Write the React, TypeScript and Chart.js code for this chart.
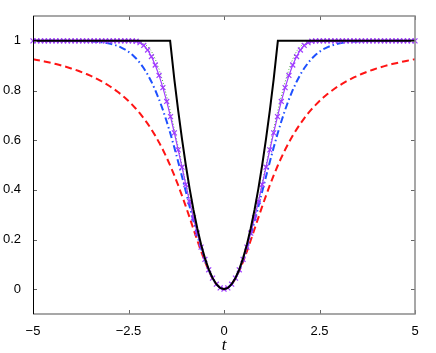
import { useEffect, useRef } from 'react';
import { Chart, registerables } from 'chart.js';

Chart.register(...registerables);

const xTicks = [-5, -2.5, 0, 2.5, 5];
const yTicks = [0, 0.2, 0.4, 0.6, 0.8, 1];

const tValues = [
  -5, -4.9, -4.8, -4.7, -4.6, -4.5, -4.4, -4.3, -4.2, -4.1,
  -4, -3.9, -3.8, -3.7, -3.6, -3.5, -3.4, -3.3, -3.2, -3.1,
  -3, -2.9, -2.8, -2.7, -2.6, -2.5, -2.4, -2.3, -2.2, -2.1,
  -2, -1.9, -1.8, -1.7, -1.6, -1.5, -1.4, -1.3, -1.2, -1.1,
  -1, -0.9, -0.8, -0.7, -0.6, -0.5, -0.4, -0.3, -0.2, -0.1,
  0,
  0.1, 0.2, 0.3, 0.4, 0.5, 0.6, 0.7, 0.8, 0.9, 1,
  1.1, 1.2, 1.3, 1.4, 1.5, 1.6, 1.7, 1.8, 1.9, 2,
  2.1, 2.2, 2.3, 2.4, 2.5, 2.6, 2.7, 2.8, 2.9, 3,
  3.1, 3.2, 3.3, 3.4, 3.5, 3.6, 3.7, 3.8, 3.9, 4,
  4.1, 4.2, 4.3, 4.4, 4.5, 4.6, 4.7, 4.8, 4.9, 5,
];

const blackT = [
  -5, -1.41, -1.3, -1.2, -1.1, -1, -0.9, -0.8, -0.7, -0.6, -0.5, -0.4, -0.3, -0.2, -0.1,
  0,
  0.1, 0.2, 0.3, 0.4, 0.5, 0.6, 0.7, 0.8, 0.9, 1, 1.1, 1.2, 1.3, 1.41, 5,
];
const blackY = [
  1, 1, 0.845, 0.72, 0.605, 0.5, 0.405, 0.32, 0.245, 0.18, 0.125, 0.08, 0.045, 0.02, 0.005,
  0,
  0.005, 0.02, 0.045, 0.08, 0.125, 0.18, 0.245, 0.32, 0.405, 0.5, 0.605, 0.72, 0.845, 1, 1,
];

const purpleY = [
  1, 1, 1, 1, 1, 1, 1, 1, 1, 1,
  1, 1, 1, 1, 1, 1, 1, 1, 1, 1,
  1, 1, 1, 1, 1, 1, 0.9999, 0.9983, 0.9928, 0.9814,
  0.963, 0.9368, 0.9027, 0.8607, 0.8115, 0.7559, 0.6947, 0.6293, 0.561, 0.4912,
  0.4213, 0.3528, 0.2871, 0.2255, 0.1694, 0.1199, 0.0779, 0.0443, 0.0199, 0.005,
  0,
  0.005, 0.0199, 0.0443, 0.0779, 0.1199, 0.1694, 0.2255, 0.2871, 0.3528, 0.4213,
  0.4912, 0.561, 0.6293, 0.6947, 0.7559, 0.8115, 0.8607, 0.9027, 0.9368, 0.963,
  0.9814, 0.9928, 0.9983, 0.9999, 1, 1, 1, 1, 1, 1,
  1, 1, 1, 1, 1, 1, 1, 1, 1, 1,
  1, 1, 1, 1, 1, 1, 1, 1, 1, 1,
];

const greenY = [
  1, 1, 1, 1, 1, 1, 1, 1, 1, 1,
  1, 1, 1, 1, 1, 1, 1, 1, 1, 1,
  1, 1, 1, 1, 1, 1, 1, 0.999, 0.9957, 0.9888,
  0.9778, 0.9583, 0.9272, 0.8856, 0.8351, 0.777, 0.7128, 0.6442, 0.5728, 0.5001,
  0.4278, 0.3573, 0.29, 0.2273, 0.1704, 0.1204, 0.0781, 0.0444, 0.0199, 0.005,
  0,
  0.005, 0.0199, 0.0444, 0.0781, 0.1204, 0.1704, 0.2273, 0.29, 0.3573, 0.4278,
  0.5001, 0.5728, 0.6442, 0.7128, 0.777, 0.8351, 0.8856, 0.9272, 0.9583, 0.9778,
  0.9888, 0.9957, 0.999, 1, 1, 1, 1, 1, 1, 1,
  1, 1, 1, 1, 1, 1, 1, 1, 1, 1,
  1, 1, 1, 1, 1, 1, 1, 1, 1, 1,
];

const blueY = [
  1, 1, 1, 1, 1, 1, 0.9999, 0.9999, 0.9999, 0.9998,
  0.9997, 0.9995, 0.9993, 0.9989, 0.9985, 0.9978, 0.9969, 0.9957, 0.994, 0.9918,
  0.9889, 0.9851, 0.9802, 0.9739, 0.966, 0.9561, 0.9439, 0.929, 0.9111, 0.8897,
  0.8647, 0.8355, 0.8021, 0.7643, 0.722, 0.6753, 0.6247, 0.5704, 0.5132, 0.4539,
  0.3935, 0.333, 0.2739, 0.2173, 0.1647, 0.1175, 0.0769, 0.044, 0.0198, 0.005,
  0,
  0.005, 0.0198, 0.044, 0.0769, 0.1175, 0.1647, 0.2173, 0.2739, 0.333, 0.3935,
  0.4539, 0.5132, 0.5704, 0.6247, 0.6753, 0.722, 0.7643, 0.8021, 0.8355, 0.8647,
  0.8897, 0.9111, 0.929, 0.9439, 0.9561, 0.966, 0.9739, 0.9802, 0.9851, 0.9889,
  0.9918, 0.994, 0.9957, 0.9969, 0.9978, 0.9985, 0.9989, 0.9993, 0.9995, 0.9997,
  0.9998, 0.9999, 0.9999, 0.9999, 1, 1, 1, 1, 1, 1,
];

const redY = [
  0.9259, 0.9231, 0.9201, 0.917, 0.9136, 0.9101, 0.9064, 0.9024, 0.8982, 0.8937,
  0.8889, 0.8838, 0.8783, 0.8725, 0.8663, 0.8596, 0.8525, 0.8448, 0.8366, 0.8277,
  0.8182, 0.8079, 0.7967, 0.7847, 0.7717, 0.7576, 0.7423, 0.7257, 0.7076, 0.688,
  0.6667, 0.6435, 0.6183, 0.591, 0.5614, 0.5294, 0.4949, 0.458, 0.4186, 0.3769,
  0.3333, 0.2883, 0.2424, 0.1968, 0.1525, 0.1111, 0.0741, 0.0431, 0.0196, 0.005,
  0,
  0.005, 0.0196, 0.0431, 0.0741, 0.1111, 0.1525, 0.1968, 0.2424, 0.2883, 0.3333,
  0.3769, 0.4186, 0.458, 0.4949, 0.5294, 0.5614, 0.591, 0.6183, 0.6435, 0.6667,
  0.688, 0.7076, 0.7257, 0.7423, 0.7576, 0.7717, 0.7847, 0.7967, 0.8079, 0.8182,
  0.8277, 0.8366, 0.8448, 0.8525, 0.8596, 0.8663, 0.8725, 0.8783, 0.8838, 0.8889,
  0.8937, 0.8982, 0.9024, 0.9064, 0.9101, 0.9136, 0.917, 0.9201, 0.9231, 0.9259,
];

const pts = (xs: number[], ys: number[]) => xs.map((x, i) => ({ x, y: ys[i] }));

const fmtX = (v: number) => (v < 0 ? '\u2212' + String(-v) : String(v));

export default function App() {
  const ref = useRef<HTMLCanvasElement>(null);

  useEffect(() => {
    if (!ref.current) return;
    const boxPlugin = {
      id: 'matlabBox',
      afterDraw(chart: any) {
        const { ctx, chartArea: a, scales } = chart;
        const xs = scales.x;
        const ys = scales.y;
        ctx.save();
        const tl = 4;
        ctx.strokeStyle = '#666';
        ctx.lineWidth = 1;
        ctx.beginPath();
        xTicks.forEach((v) => {
          const px = Math.round(xs.getPixelForValue(v)) + 0.5;
          ctx.moveTo(px, a.bottom);
          ctx.lineTo(px, a.bottom - tl);
          ctx.moveTo(px, a.top);
          ctx.lineTo(px, a.top + tl);
        });
        yTicks.forEach((v) => {
          const py = Math.round(ys.getPixelForValue(v)) + 0.5;
          ctx.moveTo(a.left, py);
          ctx.lineTo(a.left + tl, py);
          ctx.moveTo(a.right, py);
          ctx.lineTo(a.right - tl, py);
        });
        ctx.stroke();
        ctx.strokeStyle = '#8a8a8a';
        ctx.lineWidth = 1.5;
        ctx.beginPath();
        ctx.moveTo(a.left, a.top);
        ctx.lineTo(a.right, a.top);
        ctx.lineTo(a.right, a.bottom);
        ctx.lineTo(a.left, a.bottom);
        ctx.stroke();
        ctx.strokeStyle = '#000';
        ctx.lineWidth = 1;
        ctx.beginPath();
        ctx.moveTo(Math.round(a.left) + 0.5, a.top);
        ctx.lineTo(Math.round(a.left) + 0.5, a.bottom);
        ctx.stroke();
        ctx.restore();
      },
    };

    const tickFont = { family: "'Liberation Sans', Arial, sans-serif", size: 13 };
    const purple = 'rgb(160,60,255)';

    const chart = new Chart(ref.current, {
      type: 'line',
      data: {
        datasets: [
          {
            label: 'black',
            data: pts(blackT, blackY),
            borderColor: '#000000',
            borderWidth: 2,
            pointRadius: 0,
            tension: 0,
            clip: false as any,
          },
          {
            label: 'purple',
            data: pts(tValues, purpleY),
            borderColor: purple,
            backgroundColor: purple,
            borderWidth: 1.2,
            pointStyle: 'crossRot',
            pointRadius: 3.5,
            pointBorderWidth: 1.2,
            pointBorderColor: purple,
            tension: 0,
            clip: false as any,
          },
          {
            label: 'green',
            data: pts(tValues, greenY),
            borderColor: 'rgb(70,170,60)',
            borderWidth: 1,
            borderDash: [1, 2],
            pointRadius: 0,
            tension: 0,
          },
          {
            label: 'blue',
            data: pts(tValues, blueY),
            borderColor: 'rgb(30,80,255)',
            borderWidth: 2,
            borderDash: [7, 3, 1.5, 3],
            pointRadius: 0,
            tension: 0,
          },
          {
            label: 'red',
            data: pts(tValues, redY),
            borderColor: 'rgb(255,20,20)',
            borderWidth: 2,
            borderDash: [7, 4],
            pointRadius: 0,
            tension: 0,
          },
        ],
      },
      options: {
        animation: false,
        responsive: false,
        maintainAspectRatio: false,
        layout: { padding: { left: 0, right: 21, top: 16, bottom: 0 } },
        plugins: { legend: { display: false }, tooltip: { enabled: false } },
        scales: {
          x: {
            type: 'linear',
            min: -5,
            max: 5,
            grid: { display: false },
            border: { display: false },
            afterBuildTicks: (s: any) => {
              s.ticks = xTicks.map((v) => ({ value: v }));
            },
            afterFit: (s: any) => {
              s.height = 39;
            },
            ticks: {
              font: tickFont,
              color: '#000',
              padding: 2,
              maxRotation: 0,
              autoSkip: false,
              callback: (v: any) => fmtX(Number(v)),
            },
            title: {
              display: true,
              text: 't',
              color: '#000',
              font: { family: "'Liberation Serif', 'Times New Roman', serif", style: 'italic', size: 17 },
              padding: { top: 0, bottom: -3 },
            },
          },
          y: {
            type: 'linear',
            min: -0.1,
            max: 1.1,
            grid: { display: false },
            border: { display: false },
            afterBuildTicks: (s: any) => {
              s.ticks = yTicks.map((v) => ({ value: v }));
            },
            afterFit: (s: any) => {
              s.width = 33;
            },
            ticks: {
              font: tickFont,
              color: '#000',
              padding: 4,
              autoSkip: false,
              callback: (v: any) => String(Number(v)),
            },
          },
        },
      },
      plugins: [boxPlugin],
    } as any);

    return () => chart.destroy();
  }, []);

  return (
    <div style={{ position: 'absolute', left: 0, top: 0, width: 436, height: 353, background: '#fff' }}>
      <canvas ref={ref} width={436} height={353} style={{ display: 'block' }} />
    </div>
  );
}
